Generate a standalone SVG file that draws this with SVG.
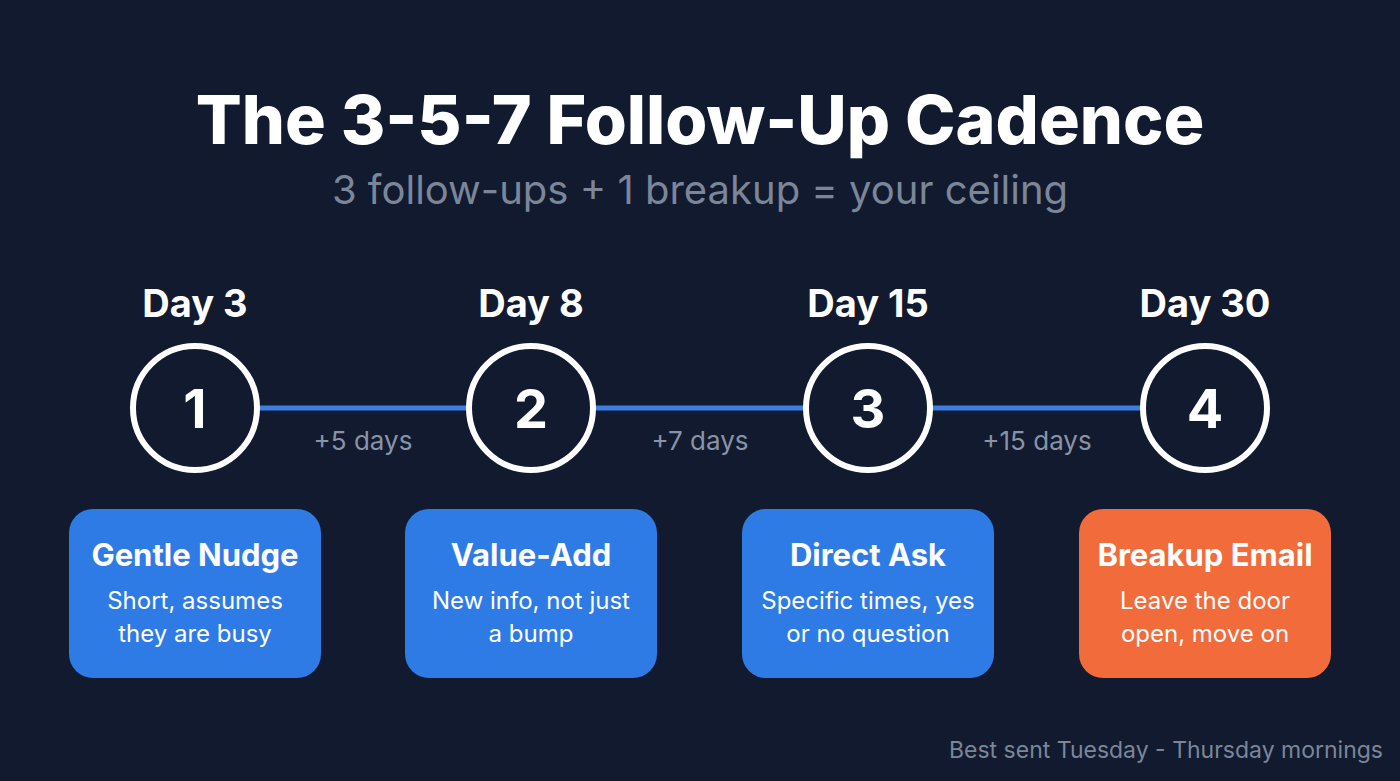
<svg xmlns="http://www.w3.org/2000/svg" width="1400" height="781" viewBox="0 0 1400 781">
<defs>
<style>
.title{font-family:Inter,"Liberation Sans",sans-serif;font-weight:800;font-size:68px;fill:#ffffff;text-anchor:middle}
.sub{font-family:Inter,"Liberation Sans",sans-serif;font-size:40px;fill:#7c8699;text-anchor:middle}
.day{font-family:Inter,"Liberation Sans",sans-serif;font-weight:700;font-size:38px;fill:#ffffff;text-anchor:middle}
.num{font-family:Inter,"Liberation Sans",sans-serif;font-weight:700;font-size:54px;fill:#ffffff;text-anchor:middle}
.ring{fill:#111a2e;stroke:#ffffff;stroke-width:6}
.gap{font-family:Inter,"Liberation Sans",sans-serif;font-size:26px;fill:#8a93a6;text-anchor:middle}
.conn{stroke:#3b7fe3;stroke-width:5}
.boxb{fill:#2f7be6}
.boxo{fill:#f26b3a}
.bt{font-family:Inter,"Liberation Sans",sans-serif;font-weight:700;font-size:31px;fill:#ffffff;text-anchor:middle}
.bd{font-family:Inter,"Liberation Sans",sans-serif;font-size:24px;fill:#ffffff;text-anchor:middle}
.foot{font-family:Inter,"Liberation Sans",sans-serif;font-size:23px;fill:#7c8699;text-anchor:end}
</style>
</defs>
<rect width="1400" height="781" fill="#111a2e"/>
<text class="title" x="700" y="144">The 3-5-7 Follow-Up Cadence</text>
<text class="sub" x="700" y="204">3 follow-ups + 1 breakup = your ceiling</text>
<g id="connectors">
<line class="conn" x1="258" y1="408" x2="468" y2="408"/>
<line class="conn" x1="594" y1="408" x2="805" y2="408"/>
<line class="conn" x1="931" y1="408" x2="1142" y2="408"/>
<text class="gap" x="363" y="450">+5 days</text>
<text class="gap" x="700" y="450">+7 days</text>
<text class="gap" x="1037" y="450">+15 days</text>
</g>
<g id="step1">
<text class="day" x="195" y="317">Day 3</text>
<circle class="ring" cx="195" cy="408" r="62"/>
<text class="num" x="195" y="428">1</text>
<rect class="boxb" x="69" y="509" width="252" height="169" rx="24"/>
<text class="bt" x="195" y="566">Gentle Nudge</text>
<text class="bd" x="195" y="609">Short, assumes</text>
<text class="bd" x="195" y="642">they are busy</text>
</g>
<g id="step2">
<text class="day" x="531" y="317">Day 8</text>
<circle class="ring" cx="531" cy="408" r="62"/>
<text class="num" x="531" y="428">2</text>
<rect class="boxb" x="405" y="509" width="252" height="169" rx="24"/>
<text class="bt" x="531" y="566">Value-Add</text>
<text class="bd" x="531" y="609">New info, not just</text>
<text class="bd" x="531" y="642">a bump</text>
</g>
<g id="step3">
<text class="day" x="868" y="317">Day 15</text>
<circle class="ring" cx="868" cy="408" r="62"/>
<text class="num" x="868" y="428">3</text>
<rect class="boxb" x="742" y="509" width="252" height="169" rx="24"/>
<text class="bt" x="868" y="566">Direct Ask</text>
<text class="bd" x="868" y="609">Specific times, yes</text>
<text class="bd" x="868" y="642">or no question</text>
</g>
<g id="step4">
<text class="day" x="1205" y="317">Day 30</text>
<circle class="ring" cx="1205" cy="408" r="62"/>
<text class="num" x="1205" y="428">4</text>
<rect class="boxo" x="1079" y="509" width="252" height="169" rx="24"/>
<text class="bt" x="1205" y="566">Breakup Email</text>
<text class="bd" x="1205" y="609">Leave the door</text>
<text class="bd" x="1205" y="642">open, move on</text>
</g>
<text class="foot" x="1383" y="758">Best sent Tuesday - Thursday mornings</text>
</svg>
